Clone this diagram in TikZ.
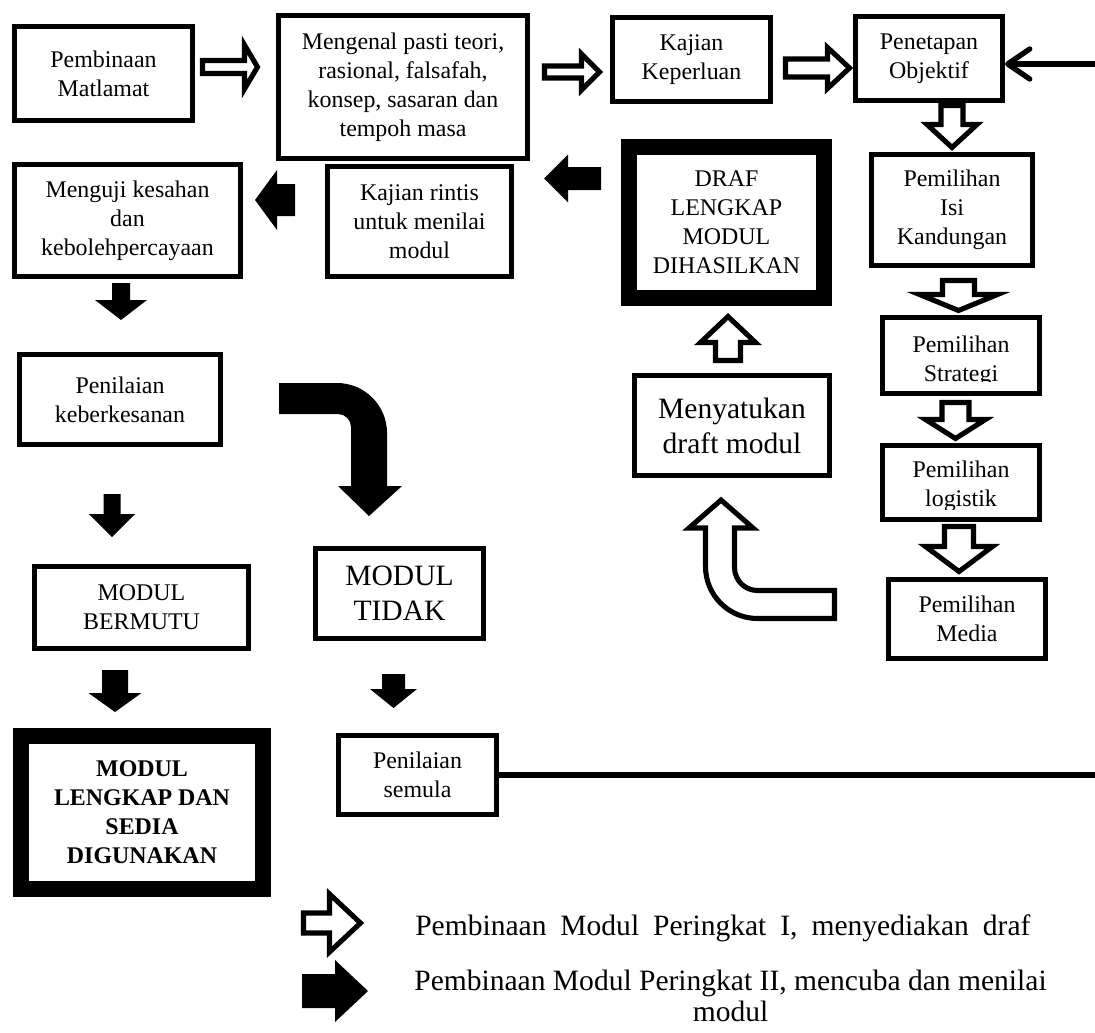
\documentclass[tikz,border=0pt]{standalone}
\usepackage{fontspec}
\setmainfont{Liberation Serif}
\usetikzlibrary{arrows.meta}
\usetikzlibrary{calc}

\newcommand{\boxfont}{\fontsize{17pt}{20.6pt}\selectfont}
\newcommand{\bigfont}{\fontsize{21pt}{25pt}\selectfont}
\newcommand{\legfont}{\fontsize{21pt}{22pt}\selectfont}

% block arrow pointing along +x: length / half shaft / half head / head length
\tikzset{
  pics/blk/.style args={#1/#2/#3/#4}{code={
    \path[pic actions] (0,-#2) -- ({#1-#4},-#2) -- ({#1-#4},-#3) -- (#1,0)
      -- ({#1-#4},#3) -- ({#1-#4},#2) -- (0,#2) -- cycle;
  }}
}

\begin{document}
\begin{tikzpicture}[x=0.025cm, y=-0.025cm,
    box/.style={draw, line width=3.6pt, align=center, font=\boxfont, inner sep=0pt},
    heavy/.style={box, line width=11.4pt},
    sz/.style 2 args={minimum width=#1*0.025cm, minimum height=#2*0.025cm},
    hollow/.style={draw, fill=white, line width=3.6pt},
    solid/.style={fill=black},
    tebal/.style={draw, line width=3.8pt}]

    \useasboundingbox (0,0) rectangle (1095,1032);

    % Peringkat I boxes
    \node[box, sz={178}{94}] (matlamat) at (103.5,73.5) {Pembinaan\\Matlamat};
    \node[box, sz={249}{143}] (teori) at (403,87) {Mengenal pasti teori,\\rasional, falsafah,\\konsep, sasaran dan\\tempoh masa};
    \node[box, sz={158}{84}] (keperluan) at (691.5,59.5) {Kajian\\Keperluan};
    \node[box, sz={147}{84}] (objektif) at (929,58.5) {Penetapan\\Objektif};
    \node[box, sz={161}{111}] (isi) at (952,210) {Pemilihan\\Isi\\Kandungan};
    \node[box, sz={157}{76}, path picture={
        \clip (path picture bounding box.north west) rectangle ([yshift=0.29cm]path picture bounding box.south east);
        \node[font=\boxfont, align=center] at ([yshift=-0.14cm]path picture bounding box.center) {Pemilihan\\Strategi};
      }] (strategi) at (961,355.5) {};
    \node[box, sz={157}{74}, path picture={
        \clip (path picture bounding box.north west) rectangle ([yshift=0.26cm]path picture bounding box.south east);
        \node[font=\boxfont, align=center] at ([yshift=-0.1cm]path picture bounding box.center) {Pemilihan\\logistik};
      }] (logistik) at (961,482.5) {};
    \node[box, sz={157}{79}] (media) at (967,619) {Pemilihan\\Media};
    \node[box, font=\bigfont, sz={195}{100}] (satukan) at (732,425.5) {Menyatukan\\draft modul};
    \node[heavy, sz={195}{151}] (draf) at (726.5,222.5) {DRAF\\LENGKAP\\MODUL\\DIHASILKAN};

    % Peringkat II boxes
    \node[box, sz={184}{110}] (rintis) at (419.5,221.5) {Kajian rintis\\untuk menilai\\modul};
    \node[box, sz={226}{112}] (kesahan) at (127.5,220.5) {Menguji kesahan\\dan\\kebolehpercayaan};
    \node[box, sz={201}{90}] (kesan) at (120,399.5) {Penilaian\\keberkesanan};
    \node[box, sz={214}{82}] (bermutu) at (141.5,607.5) {MODUL\\BERMUTU};
    \node[box, font=\bigfont, sz={168}{90}] (tidak) at (399.5,593.5) {MODUL\\TIDAK};
    \node[heavy, font=\boxfont\bfseries, sz={242}{153}] (lengkap) at (142,812.5) {MODUL\\LENGKAP DAN\\SEDIA\\DIGUNAKAN};
    \node[box, sz={158}{79}] (semula) at (417.5,775) {Penilaian\\semula};

    % hollow arrows
    \pic[hollow] at (202.5,67) {blk=55/6.5/22/13};
    \pic[hollow] at (544.5,72) {blk=55/6/18/18};
    \pic[hollow] at (785.5,68) {blk=64/9/20.5/22};
    \pic[hollow, rotate=-90] at (952,105.5) {blk=42/11/25/23};
    \pic[hollow, rotate=-90] at (958.5,280.5) {blk=30/16/39/16};
    \pic[hollow, rotate=-90] at (955.5,402.5) {blk=36/13.5/30/19};
    \pic[hollow, rotate=-90] at (959,526.5) {blk=45/14.5/33.5/25};
    \pic[hollow, rotate=90] at (728,360.5) {blk=44/12.5/27.5/26};

    % bent hollow arrow up to Menyatukan
    \draw[hollow] (721,500) -- (753,528) -- (734.5,528) -- (734.5,567.5)
        arc[start angle=180, end angle=90, radius=23] -- (834.5,590.5) -- (834.5,618.5)
        -- (757.5,618.5) arc[start angle=90, end angle=180, radius=52]
        -- (705.5,528) -- (689,528) -- cycle;

    % solid arrows
    \pic[solid, rotate=180] at (295,200) {blk=40/16/30/22};
    \pic[solid, rotate=180] at (601,178.5) {blk=57/11.5/24/24};
    \pic[solid, rotate=-90] at (121,283) {blk=37/9/26/20};
    \pic[solid, rotate=-90] at (112,494) {blk=43/8.5/23/23};
    \pic[solid, rotate=-90] at (115,670) {blk=42/13/26.5/19};
    \pic[solid, rotate=-90] at (393.5,674) {blk=34/11.5/23.5/19};

    % bent solid arrow down to MODUL TIDAK
    \fill (279,383) -- (337,383) arc[start angle=270, end angle=360, radius=50]
        -- (387,486) -- (402,486) -- (369,516) -- (338,486) -- (351,486) -- (351,427)
        arc[start angle=0, end angle=-90, radius=13] -- (279,414) -- cycle;

    % feedback lines
    \coordinate (masuk) at (1100,64);
    \draw[tebal, line cap=round, -{Straight Barb[length=0.55cm, width=0.75cm, round]}] (masuk) -- (masuk -| objektif.east);
    \coordinate (hujung) at (1100,777);
    \draw[tebal] (semula.east) -- (semula.east -| hujung);

    % legend
    \pic[hollow] at (303.5,923) {blk=57/10/29/31};
    \pic[solid] at (302,991) {blk=66/17/31/33};
    \node[font=\legfont, anchor=base west, inner sep=0pt] (leg1) at (415,935) {\makebox[15.375cm][s]{Pembinaan Modul Peringkat I, menyediakan draf}};
    \node[font=\legfont, align=center, inner sep=0pt] (leg2) at (730.5,996) {Pembinaan Modul Peringkat II, mencuba dan menilai\\modul};
\end{tikzpicture}
\end{document}
